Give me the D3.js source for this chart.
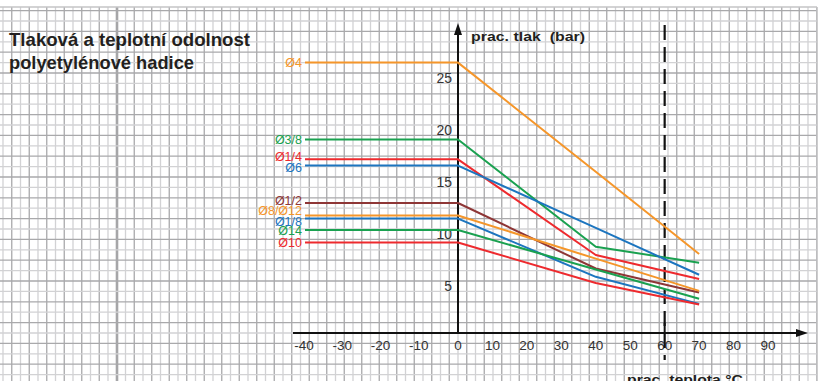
<!DOCTYPE html>
<html><head><meta charset="utf-8">
<script src="https://cdn.jsdelivr.net/npm/d3@7"></script>
<style>
html,body{margin:0;padding:0;background:#fff;}
svg{display:block;font-family:"Liberation Sans",Arial,Helvetica,sans-serif;}
</style></head>
<body>
<svg id="chart" width="825" height="381"></svg>
<script>
// ---- data ----
const temps = [-40, 0, 40, 70];
const seriesNames = ["Ø4", "Ø3/8", "Ø1/4", "Ø6", "Ø1/2", "Ø8/Ø12", "Ø1/8", "Ø14", "Ø10"];
const seriesColors = ["#f5962a", "#1aa150", "#ee2a2e", "#1c75bf", "#8e3636", "#f5962a", "#1c75bf", "#1aa150", "#ee2a2e"];
const seriesValues = [
  [26.0, 26.0, 15.5, 7.6],
  [18.6, 18.6, 8.3, 6.75],
  [16.7, 16.7, 7.5, 5.2],
  [16.1, 16.1, 10.1, 5.6],
  [12.5, 12.5, 6.2, 3.9],
  [11.3, 11.3, 7.15, 4.05],
  [11.0, 11.0, 5.4, 2.8],
  [9.9, 9.9, 6.1, 3.3],
  [8.7, 8.7, 4.8, 2.75]
];
const xTickValues = [-40, -30, -20, -10, 0, 10, 20, 30, 40, 50, 60, 70, 80, 90];
const yTickValues = [5, 10, 15, 20, 25];
const markerTemp = 60;
const titleLines = ["Tlaková a teplotní odolnost", "polyetylénové hadice"];
const yTitle = "prac. tlak  (bar)";
const xTitle = "prac. teplota °C";

// ---- layout ----
const W = 825, H = 381;
const svg = d3.select("#chart");
const x = d3.scaleLinear().domain([-40, 0, 90]).range([305, 458, 768]);
const y = d3.scaleLinear().domain([0, 25]).range([333, 73]);

// graph-paper background
const grid = svg.append("g");
const gridTop = 7, gridRight = 817;
const cellX = 8.75, cellY = (y(0) - y(1));
let k = 0;
for (let gx = x(0) - Math.floor((x(0)) / cellX) * cellX; gx <= gridRight; gx += cellX, k++) {
  grid.append("line").attr("x1", gx).attr("x2", gx).attr("y1", gridTop).attr("y2", H)
    .attr("stroke", k % 2 ? "#a9a9ab" : "#d2d2d4").attr("stroke-width", 1.3);
}
grid.append("line").attr("x1", 117).attr("x2", 117).attr("y1", gridTop).attr("y2", H)
  .attr("stroke", "#a6a6a8").attr("stroke-width", 2.6);
k = 0;
for (let gy = y(0) + Math.floor((H - y(0)) / cellY) * cellY; gy >= gridTop; gy -= cellY, k++) {
  grid.append("line").attr("x1", 0).attr("x2", gridRight).attr("y1", gy).attr("y2", gy)
    .attr("stroke", k % 2 ? "#a9a9ab" : "#d2d2d4").attr("stroke-width", 1.3);
}
grid.append("line").attr("x1", 0).attr("x2", gridRight).attr("y1", gridTop).attr("y2", gridTop)
  .attr("stroke", "#c4c4c6").attr("stroke-width", 1.3);
grid.append("line").attr("x1", gridRight).attr("x2", gridRight).attr("y1", gridTop).attr("y2", H)
  .attr("stroke", "#c4c4c6").attr("stroke-width", 1.3);

// title
svg.append("g").selectAll("text").data(titleLines).join("text")
  .attr("x", 9).attr("y", (d, i) => 46 + i * 23)
  .attr("font-size", 18.5).attr("font-weight", "bold").attr("fill", "#231f20")
  .attr("textLength", (d, i) => i === 0 ? 241 : 185).attr("lengthAdjust", "spacingAndGlyphs")
  .text(d => d);

// axes
const axisCol = "#111";
svg.append("line").attr("x1", 293).attr("x2", 800).attr("y1", y(0)).attr("y2", y(0))
  .attr("stroke", axisCol).attr("stroke-width", 2);
svg.append("path").attr("d", `M808,${y(0)} L796,${y(0) - 4} L796,${y(0) + 4} Z`).attr("fill", axisCol);
svg.append("line").attr("x1", x(0)).attr("x2", x(0)).attr("y1", y(0)).attr("y2", 32)
  .attr("stroke", axisCol).attr("stroke-width", 2);
svg.append("path").attr("d", `M${x(0)},23 L${x(0) - 4},35 L${x(0) + 4},35 Z`).attr("fill", axisCol);

// tick at marker temp
svg.append("line").attr("x1", x(markerTemp)).attr("x2", x(markerTemp)).attr("y1", y(0) - 10).attr("y2", y(0))
  .attr("stroke", axisCol).attr("stroke-width", 2);

// x tick labels
svg.append("g").selectAll("text").data(xTickValues).join("text")
  .attr("x", d => x(d) + (d < 0 ? -1 : 0)).attr("y", y(0) + 17)
  .attr("text-anchor", "middle").attr("font-size", 13.5).attr("fill", "#333")
  .text(d => d);

// y tick labels
svg.append("g").selectAll("text").data(yTickValues).join("text")
  .attr("x", x(0) - 6).attr("y", d => y(d) + 10)
  .attr("text-anchor", "end").attr("font-size", 14).attr("fill", "#333")
  .text(d => d);

// axis titles
svg.append("text").attr("x", 471).attr("y", 41).attr("font-size", 13.5).attr("font-weight", "bold")
  .attr("fill", "#231f20").attr("textLength", 114).attr("lengthAdjust", "spacingAndGlyphs")
  .style("white-space", "pre").text(yTitle);
svg.append("text").attr("x", 627).attr("y", 384).attr("font-size", 13.5).attr("font-weight", "bold")
  .attr("fill", "#231f20").attr("textLength", 116).attr("lengthAdjust", "spacingAndGlyphs").text(xTitle);

// dashed marker line
svg.append("line").attr("x1", x(markerTemp)).attr("x2", x(markerTemp)).attr("y1", 25).attr("y2", 360)
  .attr("stroke", "#111").attr("stroke-width", 2.2).attr("stroke-dasharray", "15,7");

// series lines
const line = d3.line().x(d => x(d[0])).y(d => y(d[1]));
const series = seriesNames.map((n, i) => ({
  name: n, color: seriesColors[i],
  pts: temps.map((t, j) => [t, seriesValues[i][j]])
}));
svg.append("g").selectAll("path").data(series).join("path")
  .attr("d", d => line(d.pts)).attr("fill", "none")
  .attr("stroke", d => d.color).attr("stroke-width", 2).attr("stroke-linejoin", "round");

// series labels
const labelNudge = {"Ø1/4": -2.5, "Ø6": 1.5, "Ø1/2": -3, "Ø8/Ø12": -4.5, "Ø1/8": 3};
svg.append("g").selectAll("text").data(series).join("text")
  .attr("x", x(-40) - 3).attr("y", d => y(d.pts[0][1]) + (labelNudge[d.name] || 0))
  .attr("dy", "0.36em").attr("text-anchor", "end").attr("font-size", 12.5)
  .attr("fill", d => d.color).text(d => d.name);
</script>
</body></html>
